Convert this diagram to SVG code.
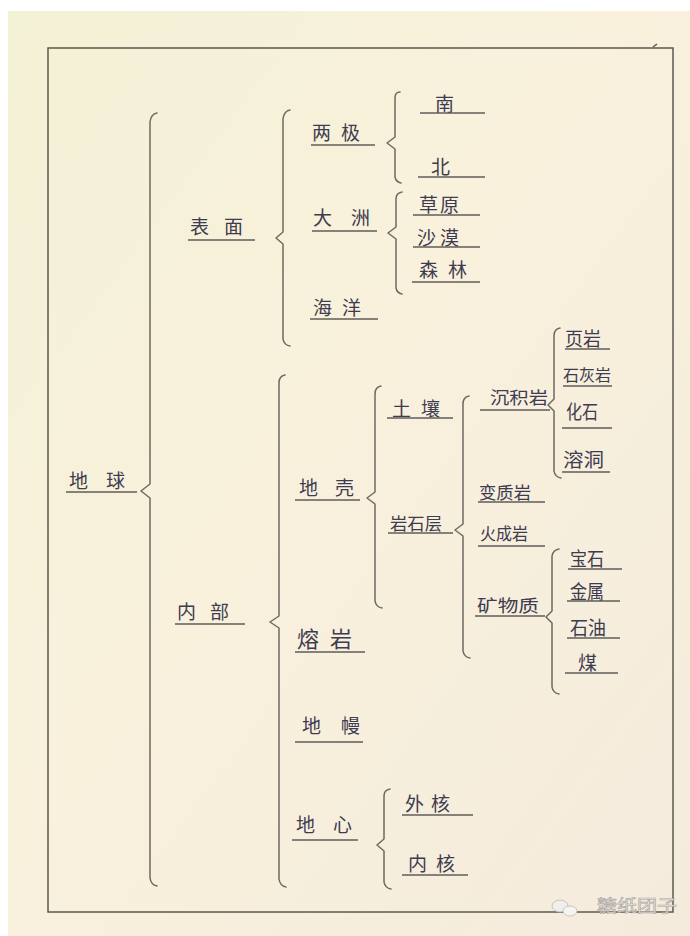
<svg xmlns="http://www.w3.org/2000/svg" width="690" height="936" viewBox="0 0 690 936">
<defs>
<linearGradient id="paper" x1="0" y1="0" x2="1" y2="1">
<stop offset="0" stop-color="#f3f1d6"/>
<stop offset="0.45" stop-color="#f9f1dc"/>
<stop offset="1" stop-color="#f4ebdd"/>
</linearGradient>
<style>
.t{font-family:"Noto Sans CJK SC","Noto Sans CJK JP",sans-serif;font-size:19px;fill:#3e3c50;}
.u{stroke:#5f5c5a;stroke-width:1.4;fill:none;}
.b{stroke:#6e6a62;stroke-width:1.5;fill:none;stroke-linejoin:round;stroke-linecap:round;}
.frame{stroke:#5a5850;stroke-width:1.5;fill:none;}
.wm{font-family:"Noto Sans CJK SC",sans-serif;font-size:17px;fill:#e9e6e1;stroke:#a9a59f;stroke-width:0.6;}
</style>
</defs>
<rect x="0" y="0" width="690" height="936" fill="#ffffff"/>
<rect x="8" y="11" width="682" height="925" fill="url(#paper)"/>
<rect class="frame" x="48" y="48" width="625" height="864"/>
<path class="frame" d="M653 47 l4 -3" />

<g id="connectors">
<!-- 地球 -->
<path class="b" d="M157 113 Q151 114 150 122 L150 484 L141 491 L150 498 L150 878 Q151 885 157 886"/>
<!-- 表面 -->
<path class="b" d="M290 110 Q284 111 283 119 L283 232 L276 238 L283 244 L283 339 Q284 345 290 346"/>
<!-- 内部 -->
<path class="b" d="M285 375 Q279 376 279 383 L279 616 L270 622 L279 628 L279 879 Q280 886 286 887"/>
<!-- 两极 -->
<path class="b" d="M400 92 Q395 92 395 98 L395 137 L387 143 L395 149 L395 177 Q396 182 401 183"/>
<!-- 大洲 -->
<path class="b" d="M402 192 Q396 193 396 199 L396 227 L388 233 L396 239 L396 288 Q397 293 402 294"/>
<!-- 地壳 -->
<path class="b" d="M381 386 Q375 387 375 394 L375 492 L367 498 L375 504 L375 601 Q376 607 382 608"/>
<!-- 岩石层 -->
<path class="b" d="M469 396 Q463 397 463 404 L463 524 L455 530 L463 536 L463 651 Q464 657 470 658"/>
<!-- 沉积岩 -->
<path class="b" d="M560 328 Q554 329 554 336 L554 399 L548 405 L554 411 L554 471 Q555 477 561 478"/>
<!-- 矿物质 -->
<path class="b" d="M559 549 Q553 550 552 556 L552 611 L546 617 L552 623 L552 687 Q553 693 559 694"/>
<!-- 地心 -->
<path class="b" d="M390 789 Q384 790 384 796 L384 839 L377 845 L384 851 L384 882 Q385 888 391 889"/>
</g>

<g id="n-diqiu"><text class="t" x="69" y="488" textLength="56" lengthAdjust="spacing">地球</text><line class="u" x1="66" y1="492" x2="137" y2="492"/></g>
<g id="n-biaomian"><text class="t" x="190" y="234" textLength="53" lengthAdjust="spacing">表面</text><line class="u" x1="188" y1="240" x2="255" y2="240"/></g>
<g id="n-neibu"><text class="t" x="177" y="619" textLength="52" lengthAdjust="spacing">内部</text><line class="u" x1="175" y1="624" x2="245" y2="624"/></g>
<g id="n-liangji"><text class="t" x="312" y="140" textLength="48" lengthAdjust="spacing">两极</text><line class="u" x1="311" y1="145" x2="375" y2="145"/></g>
<g id="n-nan"><text class="t" x="435" y="111">南</text><line class="u" x1="420" y1="113" x2="485" y2="113"/></g>
<g id="n-bei"><text class="t" x="431" y="174">北</text><line class="u" x1="418" y1="177" x2="485" y2="177"/></g>
<g id="n-dazhou"><text class="t" x="313" y="225" textLength="57" lengthAdjust="spacing">大洲</text><line class="u" x1="312" y1="231" x2="377" y2="231"/></g>
<g id="n-caoyuan"><text class="t" x="419" y="212" textLength="40" lengthAdjust="spacing">草原</text><line class="u" x1="413" y1="215" x2="480" y2="215"/></g>
<g id="n-shamo"><text class="t" x="417" y="245" textLength="42" lengthAdjust="spacing">沙漠</text><line class="u" x1="413" y1="247" x2="480" y2="247"/></g>
<g id="n-senlin"><text class="t" x="419" y="277" textLength="48" lengthAdjust="spacing">森林</text><line class="u" x1="412" y1="282" x2="480" y2="282"/></g>
<g id="n-haiyang"><text class="t" x="313" y="315" textLength="48" lengthAdjust="spacing">海洋</text><line class="u" x1="310" y1="319" x2="378" y2="319"/></g>
<g id="n-diqiao"><text class="t" x="299" y="495" textLength="55" lengthAdjust="spacing">地壳</text><line class="u" x1="295" y1="500" x2="360" y2="500"/></g>
<g id="n-rongyan"><text class="t" x="297" y="647" style="font-size:22px" textLength="55" lengthAdjust="spacing">熔岩</text><line class="u" x1="295" y1="652" x2="365" y2="652"/></g>
<g id="n-diman"><text class="t" x="302" y="733" textLength="58" lengthAdjust="spacing">地幔</text><line class="u" x1="295" y1="742" x2="363" y2="742"/></g>
<g id="n-dixin"><text class="t" x="296" y="832" textLength="56" lengthAdjust="spacing">地心</text><line class="u" x1="292" y1="840" x2="358" y2="840"/></g>
<g id="n-waihe"><text class="t" x="405" y="811" textLength="45" lengthAdjust="spacing">外核</text><line class="u" x1="402" y1="815" x2="473" y2="815"/></g>
<g id="n-neihe"><text class="t" x="408" y="871" textLength="47" lengthAdjust="spacing">内核</text><line class="u" x1="402" y1="875" x2="468" y2="875"/></g>
<g id="n-turang"><text class="t" x="392" y="416" textLength="48" lengthAdjust="spacing">土壤</text><line class="u" x1="387" y1="418" x2="453" y2="418"/></g>
<g id="n-yanshiceng"><text class="t" x="390" y="530" style="font-size:17px" textLength="52" lengthAdjust="spacingAndGlyphs">岩石层</text><line class="u" x1="388" y1="533" x2="453" y2="533"/></g>
<g id="n-chenjiyan"><text class="t" x="490" y="404" style="font-size:17px" textLength="58" lengthAdjust="spacingAndGlyphs">沉积岩</text><line class="u" x1="480" y1="410" x2="550" y2="410"/></g>
<g id="n-bianzhiyan"><text class="t" x="479" y="499" style="font-size:17px" textLength="52" lengthAdjust="spacingAndGlyphs">变质岩</text><line class="u" x1="478" y1="502" x2="545" y2="502"/></g>
<g id="n-huochengyan"><text class="t" x="480" y="540" style="font-size:17px" textLength="48" lengthAdjust="spacingAndGlyphs">火成岩</text><line class="u" x1="478" y1="546" x2="545" y2="546"/></g>
<g id="n-kuangwuzhi"><text class="t" x="477" y="612" style="font-size:17px" textLength="62" lengthAdjust="spacingAndGlyphs">矿物质</text><line class="u" x1="475" y1="616" x2="545" y2="616"/></g>
<g id="n-yeyan"><text class="t" x="565" y="346" textLength="36" lengthAdjust="spacingAndGlyphs">页岩</text><line class="u" x1="565" y1="349" x2="610" y2="349"/></g>
<g id="n-shihuiyan"><text class="t" x="563" y="381" style="font-size:16px" textLength="48" lengthAdjust="spacingAndGlyphs">石灰岩</text><line class="u" x1="563" y1="386" x2="612" y2="386"/></g>
<g id="n-huashi"><text class="t" x="566" y="419" textLength="32" lengthAdjust="spacingAndGlyphs">化石</text><line class="u" x1="562" y1="428" x2="612" y2="428"/></g>
<g id="n-rongdong"><text class="t" x="563" y="467" textLength="41" lengthAdjust="spacingAndGlyphs">溶洞</text><line class="u" x1="562" y1="472" x2="610" y2="472"/></g>
<g id="n-baoshi"><text class="t" x="570" y="566" textLength="34" lengthAdjust="spacingAndGlyphs">宝石</text><line class="u" x1="568" y1="569" x2="622" y2="569"/></g>
<g id="n-jinshu"><text class="t" x="570" y="599" textLength="34" lengthAdjust="spacingAndGlyphs">金属</text><line class="u" x1="567" y1="601" x2="620" y2="601"/></g>
<g id="n-shiyou"><text class="t" x="570" y="635" textLength="36" lengthAdjust="spacingAndGlyphs">石油</text><line class="u" x1="567" y1="638" x2="620" y2="638"/></g>
<g id="n-mei"><text class="t" x="578" y="670">煤</text><line class="u" x1="565" y1="673" x2="618" y2="673"/></g>

<g id="watermark">
<ellipse cx="560" cy="906" rx="8" ry="6" fill="#f1efec" stroke="#bdb9b3" stroke-width="0.8"/>
<ellipse cx="570" cy="911" rx="7" ry="5" fill="#f6f4f1" stroke="#bdb9b3" stroke-width="0.8"/>
<text class="wm" x="597" y="912" textLength="80" lengthAdjust="spacingAndGlyphs">糖纸团子</text>
</g>
</svg>
